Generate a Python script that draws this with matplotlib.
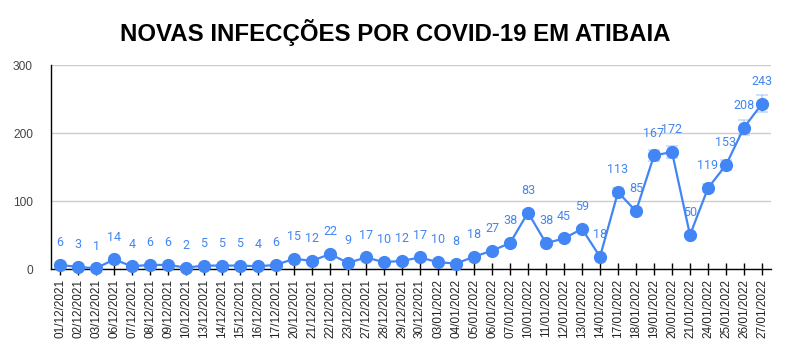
import matplotlib
matplotlib.use("Agg")
import matplotlib.pyplot as plt
import numpy as np

dates = ["01/12/2021", "02/12/2021", "03/12/2021", "06/12/2021", "07/12/2021",
         "08/12/2021", "09/12/2021", "10/12/2021", "13/12/2021", "14/12/2021",
         "15/12/2021", "16/12/2021", "17/12/2021", "20/12/2021", "21/12/2021",
         "22/12/2021", "23/12/2021", "27/12/2021", "28/12/2021", "29/12/2021",
         "30/12/2021", "03/01/2022", "04/01/2022", "05/01/2022", "06/01/2022",
         "07/01/2022", "10/01/2022", "11/01/2022", "12/01/2022", "13/01/2022",
         "14/01/2022", "17/01/2022", "18/01/2022", "19/01/2022", "20/01/2022",
         "21/01/2022", "24/01/2022", "25/01/2022", "26/01/2022", "27/01/2022"]
cases = [6, 3, 1, 14, 4, 6, 6, 2, 5, 5, 5, 4, 6, 15, 12, 22, 9, 17, 10, 12,
         17, 10, 8, 18, 27, 38, 83, 38, 45, 59, 18, 113, 85, 167, 172, 50,
         119, 153, 208, 243]
yticks = [0, 100, 200, 300]
title = "NOVAS INFECÇÕES POR COVID-19 EM ATIBAIA"

blue = "#4285F4"
fig = plt.figure(figsize=(7.89, 3.62), dpi=100)
ax = fig.add_axes([51/789, 1-269/362, 720/789, 204/362])

x = np.arange(len(cases))
vals = np.array(cases, dtype=float)

ax.errorbar(x, vals, yerr=vals*0.05, fmt="none", ecolor=blue, alpha=0.3,
            elinewidth=1.2, capsize=4.3, capthick=1.2, zorder=2)
ax.plot(x, vals, color=blue, lw=1.6, marker="o", markersize=8.5, zorder=3,
        clip_on=False)

for xi, v in zip(x, cases):
    ax.annotate(str(v), (xi, v), xytext=(0, 16), textcoords="offset points",
                ha="center", va="center", color=blue, fontsize=9,
                family="Roboto", zorder=2.5,
                arrowprops=dict(arrowstyle="-", color="#ececec", lw=1.2,
                                shrinkA=6, shrinkB=4))

ax.set_xlim(-0.5, len(cases) - 0.5)
ax.set_ylim(0, 300)
ax.set_yticks(yticks)
ax.set_xticks(x)
ax.set_xticklabels(dates, rotation=90, fontsize=8.5, color="#222222",
                   family="Liberation Sans")
ax.tick_params(axis="x", direction="inout", length=8.5, width=1, color="black",
               pad=3)
ax.tick_params(axis="y", length=0, pad=13, labelsize=8.6, labelcolor="#444444")
for lab in ax.get_yticklabels():
    lab.set_family("Liberation Sans")
ax.grid(axis="y", color="#cccccc", lw=1)
ax.set_axisbelow(True)
for s in ["top", "right"]:
    ax.spines[s].set_visible(False)
ax.spines["left"].set_color("black")
ax.spines["bottom"].set_color("black")
ax.spines["left"].set_linewidth(1)
ax.spines["bottom"].set_linewidth(1)

fig.text(395/789, 1-32/362, title, ha="center", va="center", fontsize=17.3,
         fontweight="bold", family="Liberation Sans", color="black")

fig.savefig("out.png", dpi=100)
